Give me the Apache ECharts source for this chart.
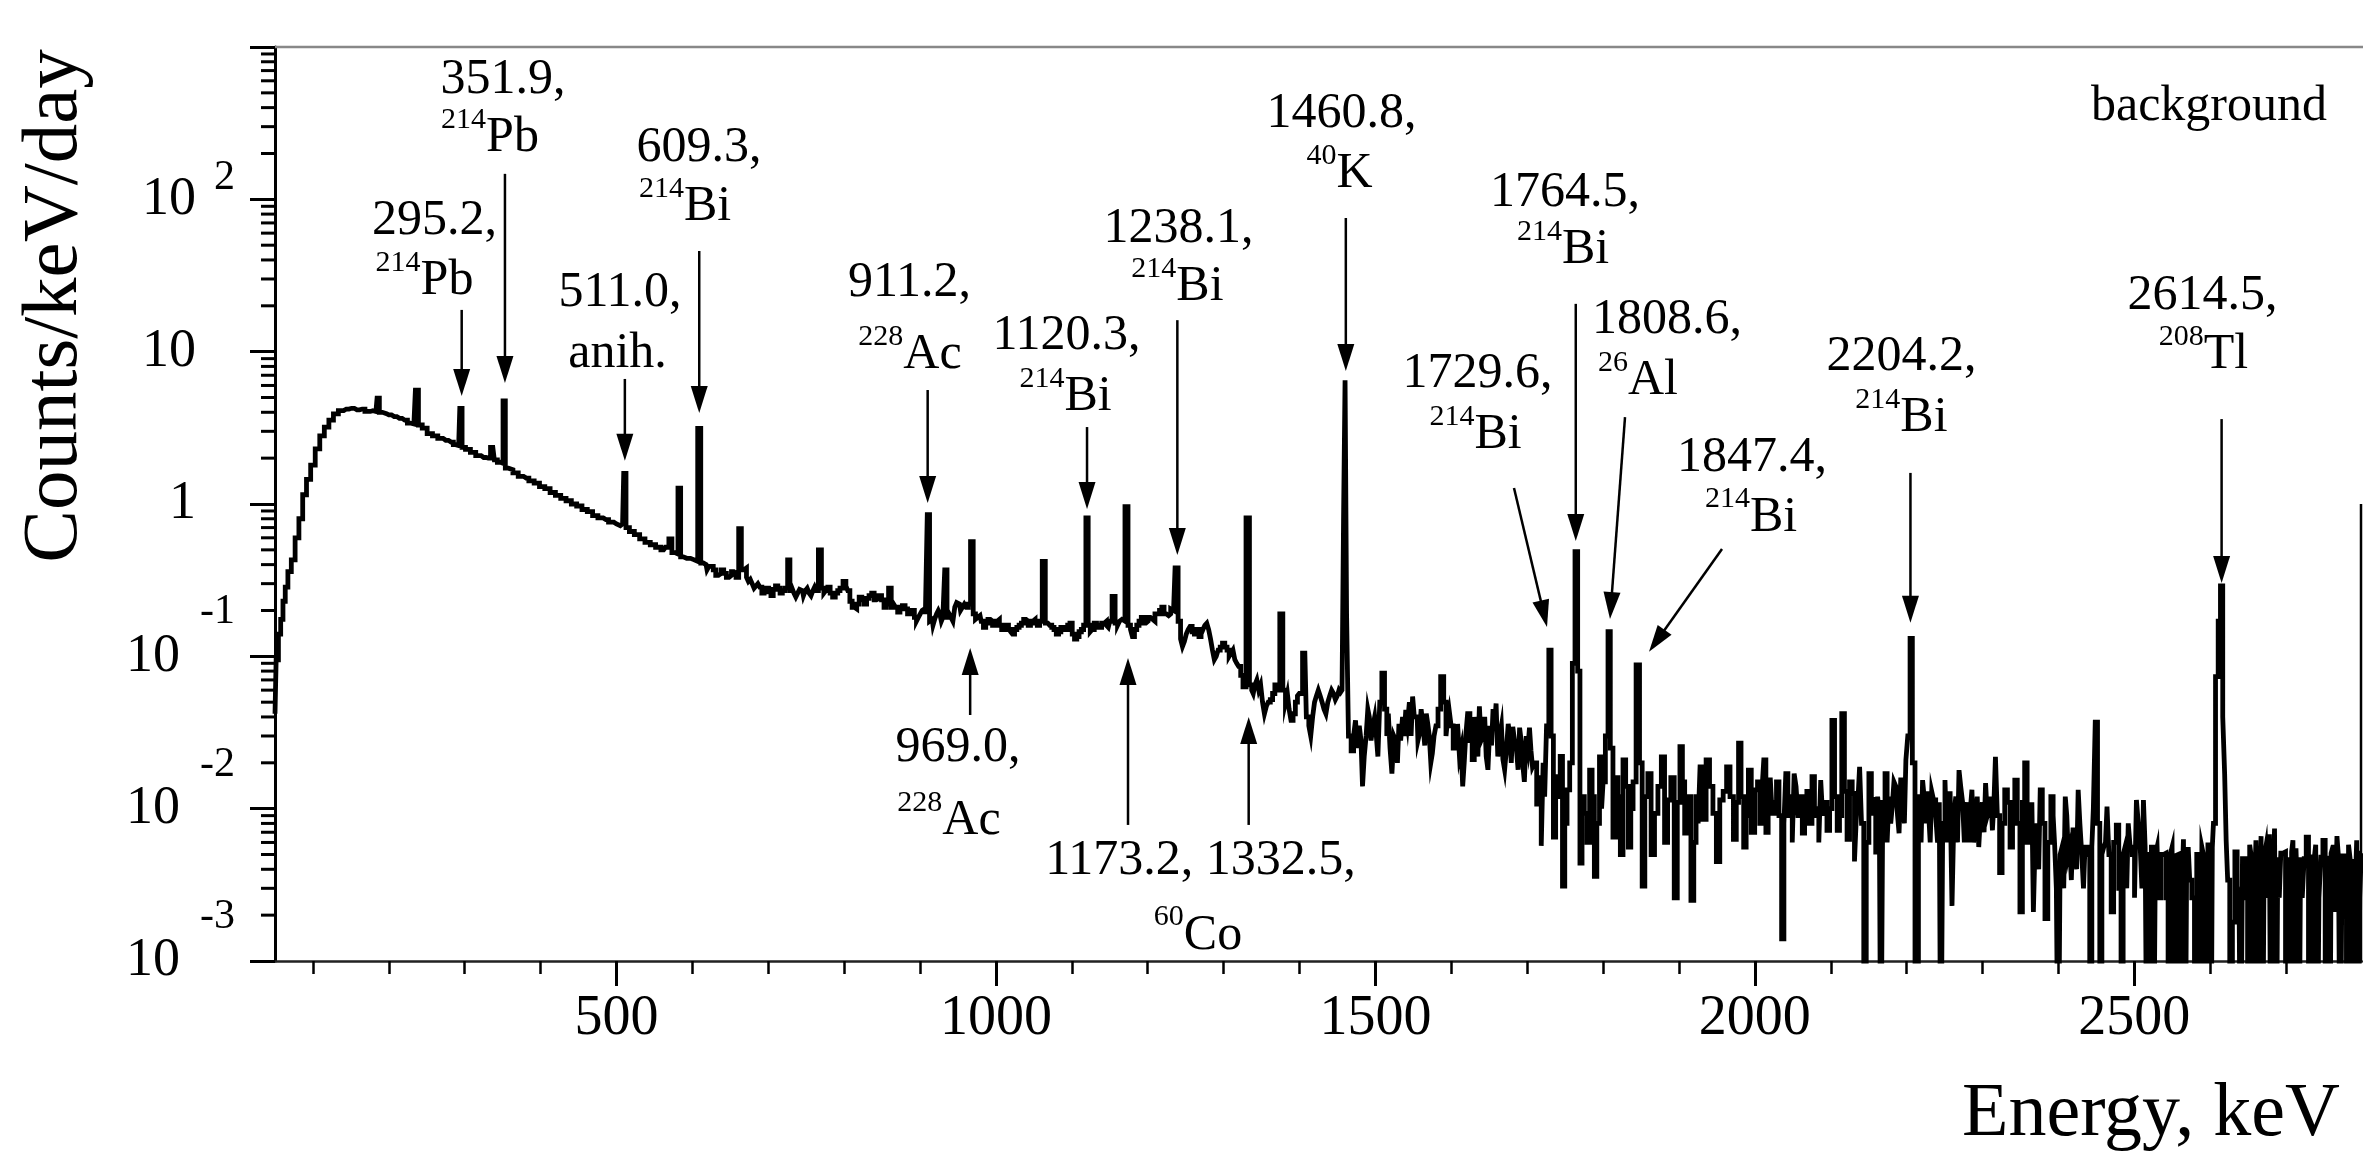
<!DOCTYPE html>
<html><head><meta charset="utf-8">
<script src="https://cdn.jsdelivr.net/npm/echarts@6/dist/echarts.min.js"></script>
<style>html,body{margin:0;padding:0;background:#fff}#chart{width:2363px;height:1152px}</style>
</head><body><div id="chart"></div>
<script>
const FONT = "'Liberation Serif','Times New Roman','DejaVu Serif',serif";

// ---- spectrum (Counts/keV/day vs Energy, keV) ----
const energyA = [50,53,56,59,62,65,69,74,79,84,89,94,100,106,112,118,124,130,137,144,151,158,165,172,179,183,186,189,194,200,207,214,221,228,233,237,241,247,254,261,268,275,282,288,292,295,298,304,311,318,325,331,337,341,345,349,352,355,360,367,374,381,388,395,402,409,416,423,430,437,444,451,458,465,472,479,486,493,500,505,508,511,514,520,527,534,541,548,555,562,567,571,575,579,583,586,590,595,600,605,609,613];
const countsA = [0.042,0.095,0.14,0.175,0.23,0.285,0.36,0.43,0.60,0.80,1.15,1.45,1.80,2.30,2.80,3.20,3.55,3.90,4.10,4.20,4.25,4.15,4.20,4.05,4.10,4.05,4.95,4.00,3.92,3.85,3.75,3.65,3.55,3.40,3.35,5.60,3.30,3.15,2.90,2.80,2.70,2.62,2.55,2.45,2.42,4.25,2.35,2.28,2.18,2.08,2.02,2.00,2.35,1.95,1.88,1.85,4.76,1.72,1.68,1.60,1.52,1.48,1.42,1.37,1.30,1.26,1.19,1.14,1.09,1.05,1.00,0.97,0.92,0.89,0.84,0.81,0.79,0.76,0.74,0.72,0.74,1.59,0.70,0.66,0.63,0.59,0.56,0.54,0.52,0.50,0.52,0.59,0.48,0.47,1.27,0.45,0.44,0.44,0.43,0.42,3.14,0.41];

const energyB = [618,623,629,636,643,650,656,663,666,670,675,680,685,690,696,702,708,714,720,724,727,730,735,740,745,750,755,760,764,768,772,777,783,790,796,801,806,812,818,825,831,838,844,851,857,860,864,869,875,882,888,894,899,904,908,911,914,918,923,927,931,934,937,942,947,952,957,962,965,968,972,976,982,988,994,1000,1006,1012,1018,1023,1029,1035,1041,1047,1053,1059,1063,1067,1072,1078,1084,1090,1096,1102,1108,1114,1117,1120,1123,1128,1134,1141,1147,1151,1155,1159,1164,1168,1172,1176,1181,1187,1193,1199,1205,1211,1217,1223,1229,1234,1238,1242,1247,1252,1257,1263,1269,1274,1279,1284,1289,1294,1300,1306,1311,1316,1321,1327,1332,1336,1340,1345,1350,1355,1360,1366,1372,1376,1380,1385,1390,1396,1401,1407,1411,1416,1421,1426,1431,1436,1441,1446,1451,1455,1457,1459,1461,1463,1466];
const countsB = [0.40,0.39,0.37,0.35,0.35,0.34,0.35,0.69,0.37,0.38,0.31,0.30,0.29,0.285,0.27,0.265,0.275,0.28,0.27,0.28,0.43,0.27,0.26,0.26,0.27,0.27,0.26,0.27,0.27,0.50,0.28,0.27,0.26,0.26,0.28,0.31,0.27,0.21,0.22,0.235,0.24,0.26,0.24,0.235,0.22,0.28,0.21,0.21,0.205,0.205,0.19,0.18,0.18,0.20,0.19,0.85,0.17,0.16,0.19,0.19,0.18,0.37,0.18,0.18,0.21,0.22,0.21,0.21,0.22,0.566,0.19,0.18,0.17,0.165,0.17,0.17,0.16,0.155,0.15,0.14,0.155,0.165,0.17,0.17,0.165,0.17,0.42,0.165,0.16,0.15,0.145,0.155,0.16,0.14,0.135,0.15,0.16,0.81,0.16,0.15,0.16,0.165,0.16,0.17,0.247,0.165,0.17,0.17,0.96,0.16,0.135,0.16,0.18,0.17,0.175,0.19,0.20,0.19,0.19,0.20,0.38,0.17,0.116,0.14,0.157,0.14,0.135,0.15,0.165,0.13,0.095,0.11,0.122,0.11,0.105,0.095,0.086,0.063,0.81,0.065,0.057,0.07,0.065,0.042,0.05,0.057,0.06,0.19,0.06,0.057,0.038,0.05,0.057,0.105,0.04,0.03,0.05,0.06,0.05,0.042,0.055,0.057,0.055,0.058,0.06,0.78,6.5,0.19,0.03];
// finer bins between the ones above (bin-to-bin jitter of the band)
const energyB2 = [615.5,620.5,626,632.5,639.5,646.5,653,659,672.5,677.5,682.5,687.5,693,699,705,711,717,732.5,737.5,742.5,747.5,752.5,757.5,762,774.5,780,786.5,793,803.5,809,815,821.5,828,834.5,841,847.5,854,866.5,872,878.5,885,891,896.5,901.5,906,916,920.5,925,929,939.5,944.5,949.5,954.5,959.5,974,979,985,991,997,1003,1009,1015,1020.5,1026,1032,1038,1044,1050,1056,1069.5,1075,1081,1087,1093,1099,1105,1111,1125.5,1131,1137.5,1144,1149,1161.5,1166,1178.5,1184,1190,1196,1202,1208,1214,1220,1226,1231.5,1244.5,1249.5,1254.5,1260,1266,1271.5,1276.5,1281.5,1286.5,1291.5,1297,1303,1308.5,1313.5,1318.5,1324,1338,1342.5,1347.5,1352.5,1357.5,1363,1369,1383,1387.5,1393,1398.5,1413.5,1418.5,1423.5,1428.5,1433.5,1438.5,1443.5,1448.5,1453];
const countsB2 = [0.42,0.37,0.39,0.34,0.37,0.33,0.36,0.33,0.33,0.32,0.28,0.30,0.26,0.28,0.25,0.29,0.26,0.28,0.245,0.275,0.25,0.28,0.25,0.285,0.26,0.285,0.245,0.27,0.29,0.23,0.205,0.245,0.22,0.25,0.235,0.25,0.21,0.22,0.195,0.215,0.19,0.20,0.17,0.19,0.205,0.175,0.175,0.20,0.17,0.19,0.17,0.225,0.20,0.22,0.175,0.185,0.155,0.175,0.16,0.175,0.15,0.16,0.145,0.15,0.16,0.175,0.16,0.175,0.16,0.17,0.155,0.14,0.155,0.15,0.165,0.13,0.145,0.145,0.165,0.155,0.17,0.155,0.16,0.175,0.15,0.15,0.17,0.165,0.18,0.17,0.19,0.21,0.185,0.205,0.13,0.125,0.15,0.145,0.15,0.14,0.16,0.15,0.11,0.10,0.115,0.115,0.10,0.11,0.09,0.075,0.06,0.065,0.06,0.05,0.047,0.052,0.065,0.05,0.045,0.042,0.055,0.035,0.04,0.055,0.055,0.045,0.05,0.06,0.052,0.06];

const energyC = [1470,1475,1480,1484,1489,1493,1498,1502,1507,1510,1514,1518,1523,1528,1532,1537,1541,1546,1550,1555,1559,1564,1568,1572,1576,1581,1584,1588,1592,1596,1601,1607,1612,1616,1620,1623,1629,1634,1638,1643,1647,1652,1656,1660,1665,1669,1674,1678,1682,1687,1691,1695,1700,1704,1708,1714,1720,1724,1727,1730,1733,1736,1742,1748,1754,1758,1761,1765,1768,1771,1777,1784,1790,1797,1801,1805,1808,1811,1815,1821,1828,1835,1841,1846,1850,1853,1861,1870,1879,1887,1896,1903,1909,1918,1924,1929,1938,1947,1956,1965,1974,1980,1987,1993,2002,2008,2013,2019,2024,2030,2037,2042,2048,2053,2058,2064,2070,2077,2083,2088,2093,2097,2103,2107,2110,2116,2120,2123,2130,2135,2139,2145,2152,2158,2163,2167,2173,2178,2182,2187,2191,2196,2200,2203,2206,2209,2213];
const countsC = [0.024,0.038,0.035,0.014,0.03,0.04,0.035,0.031,0.05,0.0775,0.045,0.042,0.017,0.028,0.036,0.04,0.0445,0.05,0.0545,0.04,0.031,0.035,0.042,0.03,0.023,0.035,0.045,0.0736,0.05,0.038,0.035,0.031,0.022,0.014,0.03,0.042,0.021,0.03,0.047,0.03,0.022,0.035,0.045,0.049,0.03,0.021,0.025,0.03,0.0345,0.025,0.034,0.02,0.03,0.034,0.0188,0.0107,0.0057,0.012,0.035,0.110,0.03,0.0065,0.0162,0.0031,0.0133,0.02,0.09,0.486,0.08,0.0044,0.0093,0.0179,0.0036,0.0219,0.015,0.03,0.145,0.025,0.0065,0.012,0.0209,0.0056,0.015,0.088,0.02,0.0031,0.017,0.0093,0.0219,0.0114,0.0026,0.0255,0.0069,0.0025,0.012,0.0188,0.0209,0.0093,0.0114,0.0188,0.0063,0.0269,0.0056,0.0179,0.0133,0.008,0.0209,0.012,0.0093,0.015,0.0014,0.017,0.012,0.017,0.009,0.0069,0.013,0.0162,0.01,0.0154,0.011,0.0072,0.038,0.012,0.0072,0.042,0.013,0.0063,0.0126,0.009,0.0188,0,0.017,0.0093,0.012,0,0.017,0.012,0.0103,0.014,0.0069,0.011,0.0209,0.03,0.131,0.02,0];
const energyC2 = [1472.5,1477.5,1482,1486.5,1491,1495.5,1500,1504.5,1516,1520.5,1525.5,1530,1534.5,1539,1543.5,1548,1552.5,1557,1561.5,1566,1570,1574,1578.5,1594,1598.5,1604,1609.5,1614,1618,1626,1631.5,1636,1640.5,1645,1649.5,1654,1658,1662.5,1667,1671.5,1676,1680,1684.5,1689,1693,1697.5,1702,1706,1711,1717,1722,1739,1745,1751,1773.5,1780.5,1787,1793.5,1799,1818,1824.5,1831.5,1838,1857,1865.5,1874.5,1883,1891.5,1899.5,1906,1913.5,1921,1926.5,1933.5,1942.5,1951.5,1960.5,1969.5,1977,1983.5,1990,1997.5,2005,2010.5,2016,2021.5,2027,2033.5,2039.5,2045,2050.5,2055.5,2061,2067,2073.5,2080,2085.5,2090.5,2100,2113,2126.5,2132.5,2137,2142,2148.5,2155,2160.5,2165,2170,2175.5,2180,2184.5,2189,2193.5,2198];
const countsC2 = [0.03,0.025,0.028,0.022,0.045,0.028,0.04,0.022,0.03,0.025,0.03,0.02,0.028,0.03,0.036,0.03,0.04,0.028,0.045,0.026,0.036,0.02,0.03,0.03,0.044,0.025,0.036,0.025,0.02,0.028,0.04,0.022,0.028,0.04,0.018,0.026,0.035,0.022,0.035,0.018,0.036,0.02,0.028,0.018,0.028,0.015,0.025,0.024,0.02,0.016,0.02,0.012,0.022,0.008,0.012,0.006,0.012,0.008,0.01,0.016,0.005,0.014,0.01,0.012,0.005,0.014,0.006,0.016,0.011,0.015,0.012,0.006,0.008,0.0085,0.014,0.0045,0.013,0.012,0.011,0.012,0.009,0.007,0.015,0.013,0.007,0.016,0.011,0.009,0.008,0.009,0.006,0.014,0.012,0.011,0.008,0.009,0.006,0.009,0.01,0.009,0.015,0.0045,0.012,0.008,0.006,0.0115,0.005,0.009,0.011,0.006,0.008,0.015,0.009,0.016,0.008];

const energyD = [2218,2222,2226,2230,2234,2237,2242,2246,2252,2256,2261,2266,2270,2275,2279,2283,2287,2292,2296,2301,2305,2310,2314,2318,2324,2331,2338,2344,2351,2357,2364,2368,2373,2377,2384,2392,2396,2401,2406,2410,2414,2418,2423,2427,2432,2436,2443,2447,2450,2453,2456,2461,2465,2471,2478,2484,2489,2493,2499,2504,2509,2513,2518,2524,2529,2533,2540,2546,2551,2555,2561,2566,2570,2574,2581,2586,2590,2594,2598,2602,2605,2609,2612,2615,2618,2620,2624,2631,2637,2641,2644,2651,2655,2659,2664,2668,2672,2677,2681,2686,2690,2694,2701,2705,2708,2712,2716,2720,2725,2731,2735,2738,2742,2747,2753,2757,2760,2766,2770,2775,2781,2786,2792,2796,2800];
const countsD = [0.012,0.0154,0.008,0.0093,0.013,0.0114,0.006,0,0.0154,0.009,0.0023,0.012,0.0179,0.011,0.0093,0.006,0.0133,0.009,0.0056,0.011,0.0147,0.01,0.0072,0.0219,0.0038,0.0133,0.0056,0.0154,0.0021,0.020,0.0093,0.0021,0.008,0.0133,0.0019,0.012,0.0058,0,0.0056,0.012,0.005,0.0034,0.0056,0.0133,0.005,0.0056,0,0.01,0.037,0.008,0,0.0056,0.0103,0.0021,0.0078,0,0.0056,0.008,0.005,0.0114,0.0056,0.0114,0,0.0056,0.005,0.0026,0.0051,0,0.0056,0.0049,0,0.0063,0.0048,0.0034,0,0.005,0.0056,0.0028,0.006,0,0.008,0.0736,0.17,0.29,0.04,0.017,0.0034,0.0018,0.0031,0,0.0047,0,0.0049,0.0026,0,0.0066,0.0048,0.0026,0,0.0074,0.0048,0.0051,0,0.0048,0.0052,0,0.0026,0.0048,0.0047,0,0.005,0.0048,0,0.0048,0,0.0049,0.0051,0.0021,0.0048,0.0049,0,0.0045,0.0024,0,0.0051];
const energyD2 = [2220,2224,2228,2232,2239.5,2244,2249,2254,2258.5,2263.5,2268,2272.5,2277,2281,2285,2289.5,2294,2298.5,2303,2307.5,2312,2316,2321,2327.5,2334.5,2341,2347.5,2354,2360.5,2366,2370.5,2375,2380.5,2388,2394,2398.5,2403.5,2408,2412,2416,2420.5,2425,2429.5,2434,2439.5,2445,2458.5,2463,2468,2474.5,2481,2486.5,2491,2496,2501.5,2506.5,2511,2515.5,2521,2526.5,2531,2536.5,2543,2548.5,2553,2558,2563.5,2568,2572,2577.5,2583.5,2588,2592,2596,2600,2603.5,2622,2627.5,2634,2639,2647.5,2653,2657,2661.5,2666,2670,2674.5,2679,2683.5,2688,2692,2697.5,2703,2706.5,2710,2714,2718,2722.5,2728,2733,2736.5,2740,2744.5,2750,2755,2758.5,2763,2768,2772.5,2778,2783.5,2789,2794,2798];
const countsD2 = [0.006,0.012,0.013,0.006,0.009,0.011,0.008,0.006,0.013,0.009,0.006,0.014,0.006,0.011,0.01,0.006,0.012,0.009,0.007,0.009,0.012,0.011,0.009,0.008,0.011,0.009,0.008,0.011,0.006,0.011,0.006,0.004,0.008,0.006,0.009,0.003,0.005,0.003,0.009,0.0056,0.0075,0.004,0.008,0.003,0.005,0.0056,0.005,0.006,0.005,0.006,0.003,0.005,0.003,0.0056,0.0026,0.008,0.003,0.0056,0.005,0,0.0056,0.005,0.0026,0.005,0,0.005,0.0026,0,0.0056,0.0026,0.005,0,0.005,0,0.005,0.0056,0.0062,0,0.0052,0.0026,0.0026,0.0058,0,0.0062,0.0026,0,0.0056,0.0068,0.0026,0,0.0026,0.0052,0.0026,0,0.0062,0.0055,0,0.0026,0.0065,0.0026,0,0.0058,0.0026,0.0062,0.0026,0,0.0056,0.0066,0,0.0026,0.0058,0,0.0062,0.0026];

// ---- axis ticks ----
const xTickValues = [500, 1000, 1500, 2000, 2500];
const yMin = 0.001, yMax = 1000;
const xMin = 50, xMax = 2800;

// ---- peak annotations ----
const peakTexts = ['295.2,','351.9,','511.0,','609.3,','911.2,','1120.3,','1238.1,','1460.8,','1764.5,','1729.6,','1808.6,','1847.4,','2204.2,','2614.5,','969.0,','1173.2, 1332.5,'];
const isoMass   = ['214','214','','214','228','214','214','40','214','214','26','214','214','208','228','60'];
const isoName   = ['Pb','Pb','anih.','Bi','Ac','Bi','Bi','K','Bi','Bi','Al','Bi','Bi','Tl','Ac','Co'];

// layout of annotations in data units: [line1 keV, line1 value, line2 keV, line2 value]
const labelLayout = [
  [260.2,72.1,247,29.1],[350.4,612,333.3,252.7],[504.6,24.28,501.3,9.656],[608.7,218.9,590.3,89.1],
  [886.1,28.24,886.7,9.51],[1093,12.67,1091.7,5.04],[1240.5,64.4,1239.2,26.6],[1455.3,363.3,1452.7,146.7],
  [1749.8,110.9,1747.2,46.5],[1634.5,7.137,1631.9,2.838],[1884.2,16.14,1846,6.42],[1996.2,2.02,1994.9,0.815],
  [2193.2,9.23,2193.2,3.67],[2589.9,23.38,2591.2,9.51],[950,0.02502,938.1,0.0083],[1269.5,0.004568,1266.2,0.00147]
];
// arrows in data units: [tail keV, tail value, tip keV, tip value]
const arrowLayout = [
  [296,18.8,296,5.12],[353,147,353,6.23],[511,6.62,511,1.92],[609,45.8,609,3.96],
  [910,5.6,910,1.015],[1120,3.2,1120,0.927],[1239,16.1,1239,0.462],[1461,75.4,1461,7.47],
  [1764,20.6,1764,0.571],[1682.6,1.274,1726.1,0.156],[1828.9,3.72,1809.1,0.176],[1956.7,0.507,1860.5,0.107],
  [2205,1.6,2205,0.166],[2615,3.61,2615,0.303],[966,0.0412,966,0.1135],[1174,0.00782,1174,0.0975],[1333,0.00782,1333,0.040]
];

// ---- build ----
const ZERO_FLOOR = 1e-4; // empty bins drop below the axis (clipped)
const spectrum = [];
[[energyA,countsA],[energyB,countsB],[energyB2,countsB2],[energyC,countsC],[energyC2,countsC2],[energyD,countsD],[energyD2,countsD2]].forEach(([e,c]) => {
  e.forEach((x,i) => spectrum.push([x, c[i] > 0 ? c[i] : ZERO_FLOOR]));
});
spectrum.sort((p, q) => p[0] - q[0]);

const yMinorTicks = [];
for (let k = -3; k <= 2; k++) for (let m = 2; m <= 9; m++) yMinorTicks.push([xMin, m * Math.pow(10, k)]);

function yLabel(v) {
  const k = Math.round(Math.log10(v));
  if (k === 3) return '';
  if (k === 0) return '{p|1}';
  if (k === 1) return '{p|10}';
  if (k === 2) return '{b|10}{e2|2}';
  return '{b|10}{e|' + k + '}';
}

const chart = echarts.init(document.getElementById('chart'), null, {renderer: 'canvas', width: 2363, height: 1152});

const option = {
  animation: false,
  backgroundColor: '#fff',
  grid: {left: 275, right: 1, top: 47, bottom: 191, containLabel: false, outerBoundsMode: 'none'},
  xAxis: {
    type: 'value', min: xMin, max: xMax,
    splitLine: {show: false},
    axisLine: {show: true, onZero: false, lineStyle: {color: '#222', width: 2.5}},
    axisTick: {show: true, inside: false, length: 25, customValues: xTickValues, lineStyle: {color: '#000', width: 3}},
    minorTick: {show: true, splitNumber: 5, length: 13, lineStyle: {color: '#000', width: 2.5}},
    axisLabel: {customValues: xTickValues, margin: 30, fontFamily: FONT, fontSize: 56, color: '#000',
      formatter: v => String(v)}
  },
  yAxis: {
    type: 'log', logBase: 10, min: yMin, max: yMax,
    splitLine: {show: false},
    axisLine: {show: true, lineStyle: {color: '#000', width: 3}},
    axisTick: {show: true, inside: false, length: 25, lineStyle: {color: '#000', width: 3}},
    minorTick: {show: false},
    axisLabel: {
      margin: 40, color: '#000', fontFamily: FONT, fontSize: 54,
      formatter: yLabel,
      rich: {
        b: {fontSize: 54, fontFamily: FONT, color: '#000'},
        p: {fontSize: 54, fontFamily: FONT, color: '#000', padding: [0, 39, 0, 0]},
        e2: {fontSize: 42, fontFamily: FONT, color: '#000', padding: [0, 0, 42, 18]},
        e: {fontSize: 42, fontFamily: FONT, color: '#000', padding: [0, 0, 88, 20]}
      }
    }
  },
  graphic: [
    {type: 'text', x: 55, y: 306, rotation: Math.PI / 2, silent: true,
     style: {text: 'Counts/keV/day', font: '79px ' + FONT, fill: '#000', align: 'center', textAlign: 'center', verticalAlign: 'middle', textVerticalAlign: 'middle'}},
    {type: 'text', x: 1962, y: 1115, silent: true,
     style: {text: 'Energy, keV', font: '76px ' + FONT, fill: '#000', align: 'left', textAlign: 'left', verticalAlign: 'middle', textVerticalAlign: 'middle'}},
    {type: 'text', x: 2209, y: 107, silent: true,
     style: {text: 'background', font: '50px ' + FONT, fill: '#000', align: 'center', textAlign: 'center', verticalAlign: 'middle', textVerticalAlign: 'middle'}}
  ],
  series: [
    {
      type: 'line', data: spectrum, step: 'middle', showSymbol: false, symbol: 'none', clip: true, silent: true, z: 3,
      lineStyle: {color: '#000', width: 4.8, join: 'miter', cap: 'butt'}
    },
    {
      type: 'custom', coordinateSystem: 'cartesian2d', data: yMinorTicks, clip: false, silent: true, z: 4,
      renderItem: (params, api) => {
        const p = api.coord([api.value(0), api.value(1)]);
        return {type: 'line', shape: {x1: p[0] - 14, y1: p[1], x2: p[0], y2: p[1]}, style: {stroke: '#000', lineWidth: 3}};
      }
    },
    {
      type: 'custom', coordinateSystem: 'cartesian2d', data: [[xMax, yMax]], clip: false, silent: true, z: 4,
      renderItem: (params, api) => {
        const tl = api.coord([xMin, yMax]), tr = api.coord([xMax, yMax]);
        const r1 = api.coord([xMax, 1]), r0 = api.coord([xMax, yMin]);
        return {type: 'group', children: [
          {type: 'line', shape: {x1: tl[0], y1: tl[1], x2: tr[0] + 2, y2: tr[1]}, style: {stroke: '#888', lineWidth: 2.5}},
          {type: 'line', shape: {x1: r1[0] - 1, y1: r1[1], x2: r0[0] - 1, y2: r0[1]}, style: {stroke: '#000', lineWidth: 2.5}}
        ]};
      }
    },
    {
      type: 'custom', coordinateSystem: 'cartesian2d', data: arrowLayout.map(a => [a[2], a[3]]), clip: false, silent: true, z: 5,
      renderItem: (params, api) => {
        const a = arrowLayout[params.dataIndex];
        const t = api.coord([a[0], a[1]]), h = api.coord([a[2], a[3]]);
        const dx = h[0] - t[0], dy = h[1] - t[1];
        const len = Math.hypot(dx, dy), ux = dx / len, uy = dy / len;
        const HL = 27, HW = 8.5;
        const bx = h[0] - ux * HL, by = h[1] - uy * HL;
        return {type: 'group', children: [
          {type: 'line', shape: {x1: t[0], y1: t[1], x2: bx + ux * 2, y2: by + uy * 2}, style: {stroke: '#000', lineWidth: 2.5}},
          {type: 'polygon', shape: {points: [[h[0], h[1]], [bx - uy * HW, by + ux * HW], [bx + uy * HW, by - ux * HW]]}, style: {fill: '#000'}}
        ]};
      }
    },
    {
      type: 'custom', coordinateSystem: 'cartesian2d', data: labelLayout.map(l => [l[0], l[1]]), clip: false, silent: true, z: 5,
      renderItem: (params, api) => {
        const i = params.dataIndex, l = labelLayout[i];
        const p1 = api.coord([l[0], l[1]]), p2 = api.coord([l[2], l[3]]);
        const t2 = isoMass[i] ? '{s|' + isoMass[i] + '}{m|' + isoName[i] + '}' : '{m|' + isoName[i] + '}';
        return {type: 'group', children: [
          {type: 'text', x: p1[0], y: p1[1],
           style: {text: peakTexts[i], fontSize: 50, fontFamily: FONT, fill: '#000', align: 'center', verticalAlign: 'middle'}},
          {type: 'text', x: p2[0], y: p2[1],
           style: {text: t2, fontSize: 50, fontFamily: FONT, fill: '#000', align: 'center', verticalAlign: 'middle',
             rich: {
               s: {fontSize: 30, fontFamily: FONT, fill: '#000', padding: [0, 0, 36, 0]},
               m: {fontSize: 50, fontFamily: FONT, fill: '#000'}
             }}}
        ]};
      }
    }
  ]
};
chart.setOption(option);
</script>
</body></html>
